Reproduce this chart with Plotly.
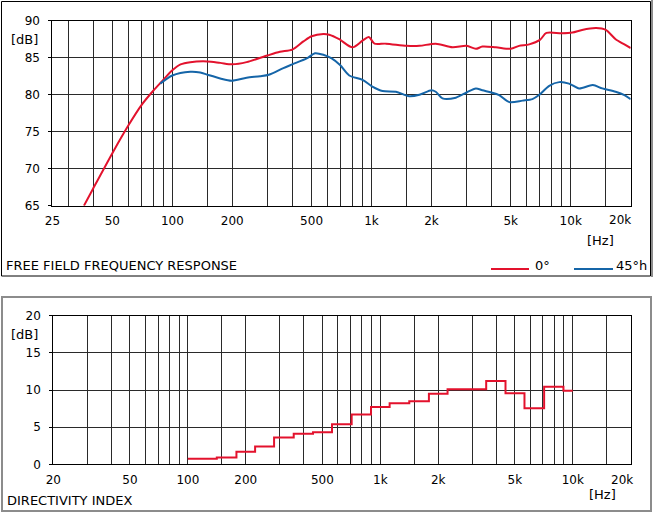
import plotly.graph_objects as go

# ---------------- data ----------------
freq_0deg = [36, 40, 50, 60, 70, 80, 90, 100, 110, 123, 150, 174, 200, 236, 300, 347, 400,
             455, 500, 573, 613, 688, 803, 901, 969, 1035, 1180, 1500, 1740, 2100, 2550,
             3000, 3340, 3600, 4210, 5000, 5500, 6190, 7000, 7550, 9000, 10200, 11400,
             13400, 15000, 16800, 18600, 20000]
db_0deg = [65.0, 67.3, 72.1, 75.8, 78.6, 80.5, 82.0, 83.3, 84.1, 84.4, 84.5, 84.3, 84.1, 84.4,
           85.3, 85.8, 86.1, 87.2, 87.9, 88.2, 88.1, 87.5, 86.4, 87.3, 87.8, 86.9, 86.9,
           86.6, 86.6, 86.9, 86.4, 86.6, 86.2, 86.5, 86.4, 86.2, 86.6, 86.8, 87.4, 88.35,
           88.3, 88.4, 88.75, 89.0, 88.75, 87.5, 86.8, 86.3]

freq_45h = [87, 100, 123, 138, 150, 174, 198, 236, 276, 305, 361, 400, 473, 520, 573, 631,
            695, 773, 901, 1010, 1135, 1326, 1546, 1740, 2000, 2100, 2270, 2650, 3000, 3340,
            3600, 4000, 4370, 4920, 5730, 6420, 6930, 7800, 8750, 9800, 11000, 12900, 14400,
            16800, 18600, 20000]
db_45h = [81.5, 82.6, 83.1, 83.0, 82.7, 82.2, 81.9, 82.3, 82.5, 82.7, 83.6, 84.1, 84.9, 85.6,
          85.4, 84.9, 84.0, 82.6, 82.0, 81.1, 80.5, 80.4, 79.8, 80.0, 80.6, 80.4, 79.5, 79.6,
          80.3, 80.85, 80.6, 80.3, 79.95, 79.0, 79.2, 79.4, 79.95, 81.2, 81.7, 81.5, 80.85,
          81.3, 80.85, 80.4, 79.95, 79.4]

di_bands = [100, 125, 160, 200, 250, 315, 400, 500, 630, 800, 1000, 1250, 1600, 2000, 2500,
            3150, 4000, 5000, 6300, 8000, 10000]
di_values = [0.75, 0.75, 0.9, 1.7, 2.4, 3.6, 4.1, 4.3, 5.4, 6.7, 7.7, 8.2, 8.5, 9.5, 10.1,
             10.1, 11.2, 9.55, 7.55, 10.45, 9.9]

grid_top = [25, 30, 40, 50, 60, 70, 80, 90, 100, 150, 200, 300, 400, 500, 600, 700, 800, 900,
            1000, 1500, 2000, 3000, 4000, 5000, 6000, 7000, 8000, 9000, 10000, 15000, 20000]
grid_bot = [20, 30, 40, 50, 60, 70, 80, 90, 100, 150, 200, 300, 400, 500, 600, 700, 800, 900,
            1000, 1500, 2000, 3000, 4000, 5000, 6000, 7000, 8000, 9000, 10000, 15000, 20000]
label_map = {20: "20", 25: "25", 50: "50", 100: "100", 200: "200", 500: "500", 1000: "1k",
             2000: "2k", 5000: "5k", 10000: "10k"}
edge_label = "20k"
top_yticks = [65, 70, 75, 80, 85, 90]
bot_yticks = [0, 5, 10, 15, 20]

RED = "#e3122d"
BLUE = "#1565a8"
FONT = "DejaVu Sans"
W, H = 653, 512

fig = go.Figure()
fig.add_trace(go.Scatter(x=freq_0deg, y=db_0deg, mode="lines", xaxis="x", yaxis="y",
                         line=dict(color=RED, width=2, shape="spline", smoothing=0.8),
                         showlegend=False, hoverinfo="skip"))
fig.add_trace(go.Scatter(x=freq_45h, y=db_45h, mode="lines", xaxis="x", yaxis="y",
                         line=dict(color=BLUE, width=2, shape="spline", smoothing=0.8),
                         showlegend=False, hoverinfo="skip"))
fig.add_trace(go.Scatter(x=di_bands, y=di_values, mode="lines", xaxis="x2", yaxis="y2",
                         line=dict(color=RED, width=2, shape="hvh"), showlegend=False,
                         hoverinfo="skip"))


def px(x):
    return x / W


def py(y):
    return 1 - y / H


gridc = "#2a2a2a"
common_x = dict(type="log", showgrid=True, gridcolor=gridc, gridwidth=1, showline=True,
                linecolor="black", linewidth=1, mirror=True, ticks="", zeroline=False,
                automargin=False,
                tickfont=dict(family=FONT, size=12, color="black"), ticklabelstandoff=4)
common_y = dict(showgrid=True, gridcolor=gridc, gridwidth=1, showline=True, linecolor="black",
                linewidth=1, mirror=True, ticks="outside", ticklen=3, tickcolor="black",
                zeroline=False, automargin=False,
                tickfont=dict(family=FONT, size=12, color="black"), ticklabelstandoff=6)

fig.update_layout(
    width=W, height=H, margin=dict(l=0, r=0, t=0, b=0, pad=0), autosize=False,
    paper_bgcolor="white", plot_bgcolor="white",
    font=dict(family=FONT, size=13, color="black"),
    xaxis=dict(common_x, domain=[px(52.4), px(630.7)], anchor="y",
               range=[1.39794, 4.30103], tickmode="array", tickvals=grid_top,
               ticktext=[label_map.get(v, "") for v in grid_top]),
    yaxis=dict(common_y, domain=[py(205.7), py(20.7)], anchor="x", range=[65, 90],
               tickmode="array", tickvals=top_yticks, ticktext=[str(v) for v in top_yticks]),
    xaxis2=dict(common_x, domain=[px(53.3), px(630.7)], anchor="y2",
                range=[1.30103, 4.30103], tickmode="array", tickvals=grid_bot,
                ticktext=[label_map.get(v, "") for v in grid_bot]),
    yaxis2=dict(common_y, domain=[py(464.3), py(315.7)], anchor="x2", range=[0, 20],
                tickmode="array", tickvals=bot_yticks, ticktext=[str(v) for v in bot_yticks]),
)

shapes = [
    # top frame
    dict(type="rect", xref="paper", yref="paper", x0=px(1.5), x1=px(650.5), y0=py(276),
         y1=py(1.5), line=dict(color="black", width=1)),
    dict(type="line", xref="paper", yref="paper", x0=px(652), x1=px(652), y0=py(277),
         y1=py(0), line=dict(color="#8c8c8c", width=2)),
    # bottom frame
    dict(type="rect", xref="paper", yref="paper", x0=px(2), x1=px(651), y0=py(511),
         y1=py(297), line=dict(color="#8c8c8c", width=2)),
    # legend lines
    dict(type="line", xref="paper", yref="paper", x0=px(491), x1=px(529), y0=py(269),
         y1=py(269), line=dict(color=RED, width=2)),
    dict(type="line", xref="paper", yref="paper", x0=px(574), x1=px(613), y0=py(269),
         y1=py(269), line=dict(color=BLUE, width=2)),
]
fig.update_layout(shapes=shapes)


def txt(text, x, y, xanchor="left", size=13):
    return dict(text=text, xref="paper", yref="paper", x=px(x), y=py(y), xanchor=xanchor,
                yanchor="middle", showarrow=False,
                font=dict(family=FONT, size=size, color="black"))


# right-edge "20k" labels, pulled inside the frame like in the original
edge_top = dict(text=edge_label, xref="x", yref="paper", x=4.30103, y=py(219.5),
                xanchor="right", yanchor="middle", xshift=2, showarrow=False,
                font=dict(family=FONT, size=12, color="black"))
edge_bot = dict(text=edge_label, xref="x2", yref="paper", x=4.30103, y=py(479.5),
                xanchor="right", yanchor="middle", xshift=4, showarrow=False,
                font=dict(family=FONT, size=12, color="black"))

fig.update_layout(annotations=[
    txt("[dB]", 9, 39),
    txt("[Hz]", 616, 240, "right"),
    txt("FREE FIELD FREQUENCY RESPONSE", 4, 265),
    txt("0°", 533, 265),
    txt("45°h", 614, 265),
    txt("[dB]", 9, 334),
    txt("[Hz]", 618, 494, "right"),
    txt("DIRECTIVITY INDEX", 5, 500),
    edge_top,
    edge_bot,
])

fig.write_html(
    "out.html",
    config={"displayModeBar": False, "staticPlot": True},
    post_script="document.body.style.margin='0px';document.body.style.padding='0px';"
                "document.body.style.overflow='hidden';",
)
